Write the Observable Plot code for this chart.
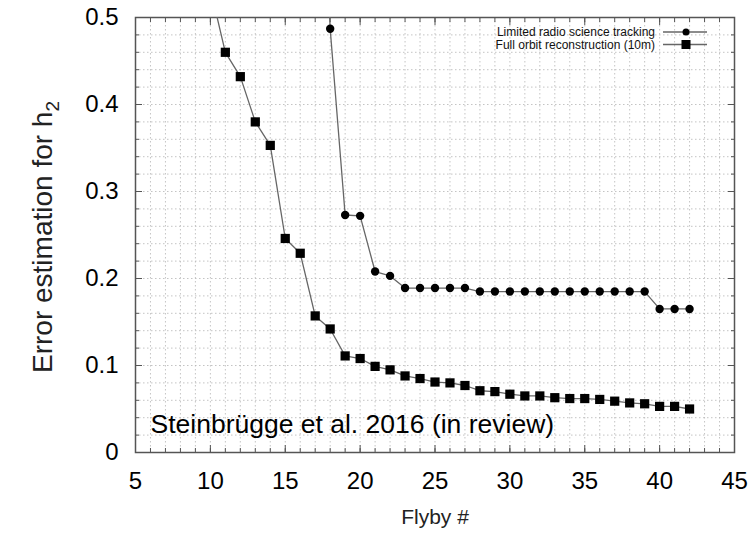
<!DOCTYPE html>
<html>
<head>
<meta charset="utf-8">
<script src="https://cdn.jsdelivr.net/npm/d3@7"></script>
<script src="https://cdn.jsdelivr.net/npm/@observablehq/plot@0.6"></script>
<style>
  html, body { margin: 0; padding: 0; background: white; }
  #chart { width: 755px; height: 533px; }
</style>
</head>
<body>
<div id="chart"></div>
<script>
// ---- data ----
const seriesNames = ["Limited radio science tracking", "Full orbit reconstruction (10m)"];

const limitedFlyby = [17, 18, 19, 20, 21, 22, 23, 24, 25, 26, 27, 28, 29, 30, 31, 32, 33, 34, 35, 36, 37, 38, 39, 40, 41, 42];
const limitedError = [0.90, 0.487, 0.273, 0.272, 0.208, 0.203, 0.189, 0.189, 0.189, 0.189, 0.189,
  0.185, 0.185, 0.185, 0.185, 0.185, 0.185, 0.185, 0.185, 0.185, 0.185, 0.185, 0.185, 0.165, 0.165, 0.165];

const fullFlyby = [10, 11, 12, 13, 14, 15, 16, 17, 18, 19, 20, 21, 22, 23, 24, 25, 26, 27, 28, 29, 30, 31, 32, 33, 34, 35, 36, 37, 38, 39, 40, 41, 42];
const fullError = [0.533, 0.460, 0.432, 0.380, 0.353, 0.246, 0.229, 0.157, 0.142, 0.111, 0.108, 0.099, 0.095,
  0.088, 0.085, 0.081, 0.080, 0.077, 0.071, 0.070, 0.067, 0.065, 0.065, 0.063, 0.062, 0.062, 0.061,
  0.059, 0.057, 0.056, 0.053, 0.053, 0.050];

const xTickLabels = [5, 10, 15, 20, 25, 30, 35, 40, 45];
const yTickLabels = [0, 0.1, 0.2, 0.3, 0.4, 0.5];
const xMinorTicks = d3.range(5, 46, 1);
const yMinorTicks = d3.range(0, 26, 1).map(i => i / 50);

const xTitle = "Flyby #";
const yTitle = "Error estimation for h";
const yTitleSub = "2";
const note = "Steinbrügge et al. 2016 (in review)";

// ---- tables ----
const limited = limitedFlyby.map((x, i) => ({x, y: limitedError[i]}));
const full = fullFlyby.map((x, i) => ({x, y: fullError[i]}));

const font = "'Liberation Sans', Arial, Helvetica, sans-serif";
const axisStroke = "#555";
const lineStroke = "#666";

function tickMarks(opts) {
  return Plot[opts.axis]( opts.ticks, {
    anchor: opts.anchor, tickSize: opts.size,
    dx: opts.dx || 0, dy: opts.dy || 0,
    tickFormat: () => "", label: null, stroke: axisStroke, strokeWidth: 1
  });
}

const chart = Plot.plot({
  width: 755,
  height: 533,
  marginLeft: 135,
  marginRight: 21,
  marginTop: 17,
  marginBottom: 81,
  x: {domain: [5, 45]},
  y: {domain: [0, 0.5]},
  style: {fontFamily: font, background: "white", color: "black", overflow: "visible"},
  marks: [
    Plot.gridX(xMinorTicks, {stroke: "#b5b5b5", strokeOpacity: 0.8, strokeDasharray: "1.5,2.5"}),
    Plot.gridY(yMinorTicks, {stroke: "#b5b5b5", strokeOpacity: 0.8, strokeDasharray: "1.5,2.5"}),
    // inward tick marks, all four sides
    tickMarks({axis: "axisY", ticks: yMinorTicks, anchor: "left", size: 4, dx: 4}),
    tickMarks({axis: "axisY", ticks: yTickLabels, anchor: "left", size: 7, dx: 7}),
    tickMarks({axis: "axisY", ticks: yMinorTicks, anchor: "right", size: 4, dx: -4}),
    tickMarks({axis: "axisY", ticks: yTickLabels, anchor: "right", size: 7, dx: -7}),
    tickMarks({axis: "axisX", ticks: xMinorTicks, anchor: "bottom", size: 4, dy: -4}),
    tickMarks({axis: "axisX", ticks: xTickLabels, anchor: "bottom", size: 7, dy: -7}),
    tickMarks({axis: "axisX", ticks: xMinorTicks, anchor: "top", size: 4, dy: 4}),
    tickMarks({axis: "axisX", ticks: xTickLabels, anchor: "top", size: 7, dy: 7}),
    Plot.frame({stroke: axisStroke, strokeWidth: 1.5}),
    // tick labels
    Plot.axisY(yTickLabels, {anchor: "left", tickSize: 0, tickPadding: 17, fontSize: 24,
      tickFormat: d => d === 0 ? "0" : d.toFixed(1), label: null}),
    Plot.axisX(xTickLabels, {anchor: "bottom", tickSize: 0, tickPadding: 19, fontSize: 24,
      tickFormat: d => String(d), label: null}),
    // series
    Plot.line(limited, {x: "x", y: "y", stroke: lineStroke, strokeWidth: 1.3, clip: true}),
    Plot.line(full, {x: "x", y: "y", stroke: lineStroke, strokeWidth: 1.3, clip: true}),
    Plot.dot(limited, {x: "x", y: "y", r: 4.2, fill: "black", stroke: "none", symbol: "circle", clip: true}),
    Plot.dot(full, {x: "x", y: "y", r: 5.2, fill: "black", stroke: "none", symbol: "square", clip: true}),
    // annotation
    Plot.text([note], {frameAnchor: "bottom-left", dx: 15, dy: -28, textAnchor: "start",
      lineAnchor: "middle", fontSize: 26.5, fill: "black"}),
    // x title
    Plot.text([xTitle], {frameAnchor: "bottom", dy: 71, fontSize: 21, fill: "#222"})
  ]
});

document.getElementById("chart").appendChild(chart);

// y title with subscript, and in-plot legend
const svg = d3.select(chart);
const yt = svg.append("text")
  .attr("transform", "translate(52,237) rotate(-90)")
  .attr("text-anchor", "middle")
  .attr("font-family", font)
  .attr("font-size", 28)
  .attr("fill", "#222")
  .text(yTitle);
yt.append("tspan").attr("font-size", 19).attr("dy", 7).text(yTitleSub);

const legend = svg.append("g").attr("font-family", font).attr("font-size", 12);
seriesNames.forEach((name, i) => {
  const y = 32 + i * 12.5;
  legend.append("text").attr("x", 655).attr("y", y).attr("dy", "0.35em")
    .attr("text-anchor", "end").attr("fill", "#111").text(name);
  legend.append("line").attr("x1", 663).attr("x2", 707).attr("y1", y).attr("y2", y)
    .attr("stroke", lineStroke).attr("stroke-width", 1.3);
  if (i === 0) {
    legend.append("circle").attr("cx", 686).attr("cy", y).attr("r", 3.5).attr("fill", "black");
  } else {
    legend.append("rect").attr("x", 686 - 4.5).attr("y", y - 4.5).attr("width", 9).attr("height", 9).attr("fill", "black");
  }
});
</script>
</body>
</html>
